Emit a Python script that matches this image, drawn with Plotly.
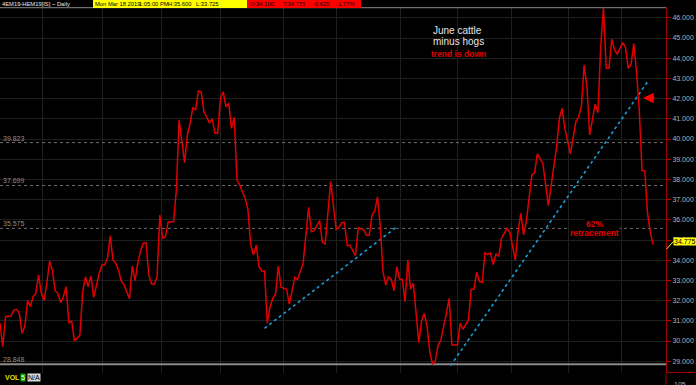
import plotly.graph_objects as go

# ---------------- data ----------------
session = [0, 1, 2, 4, 5, 6, 7, 8, 9, 10, 11, 12, 13, 14, 15, 16, 17, 18, 19, 20,
           21, 22, 23, 24, 25, 26, 27, 28, 29, 30, 31, 32, 33, 34, 36, 37, 38, 39, 40, 41,
           42, 43, 44, 45, 47, 48, 49, 50, 51, 52, 53, 54, 55, 56, 57, 58, 59, 60, 61, 63,
           64, 65, 67, 68, 69, 70, 71, 72, 73, 74, 76, 77, 78, 79, 80, 81, 82, 83, 84, 85,
           86, 87, 89, 90, 91, 92, 93, 94, 95, 96, 97, 98, 99, 100, 101, 102, 104, 105, 107, 108,
           110, 111, 112, 113, 114, 116, 117, 118, 120, 122, 123, 124, 125, 126, 127, 129, 130, 132, 133, 134,
           135, 136, 137, 138, 139, 140, 141, 142, 143, 144, 145, 146, 147, 148, 149, 150, 152, 153, 154, 155,
           156, 157, 158, 159, 160, 162, 163, 164, 166, 167, 168, 170, 171, 172, 173, 174, 175, 176, 177, 178,
           179, 180, 181, 182, 184, 185, 187, 188, 189, 190, 191, 193, 194, 195, 197, 199, 200, 202, 203, 204,
           205, 207, 209, 210, 211, 212, 213, 214, 216, 217, 218, 219, 220, 221, 222, 223, 224, 226, 227, 228,
           229, 230, 231, 232, 233, 234, 235, 236, 237]
spread = [30.88, 29.72, 31.20, 31.24, 31.53, 31.57, 31.37, 30.38, 30.71, 32.00, 31.70, 32.19, 32.36, 33.27, 32.36, 32.00, 32.86, 33.96, 33.51, 32.49,
          32.36, 31.90, 32.19, 32.69, 30.88, 31.00, 30.01, 30.13, 30.30, 32.44, 33.18, 32.69, 33.22, 32.16, 33.35, 33.75, 33.77, 34.09, 35.20, 34.01,
          33.85, 33.51, 32.96, 32.79, 32.09, 33.71, 32.99, 33.85, 34.47, 34.84, 34.87, 33.27, 32.82, 32.82, 33.18, 36.24, 35.08, 35.16, 35.88, 35.91,
          37.48, 40.94, 38.83, 40.20, 40.78, 41.57, 41.44, 42.38, 42.34, 41.35, 40.81, 40.98, 40.28, 40.28, 42.01, 42.34, 41.60, 41.77, 40.53, 41.07,
          37.97, 37.72, 37.06, 36.49, 34.75, 34.26, 34.75, 33.68, 33.47, 33.47, 30.88, 31.70, 32.11, 32.33, 33.71, 32.66, 32.56, 31.83, 33.15, 33.05,
          33.85, 35.33, 36.62, 35.41, 35.46, 35.96, 34.89, 34.80, 37.89, 35.53, 35.63, 35.86, 35.88, 34.72, 34.75, 34.22, 35.61, 35.50, 35.23, 35.23,
          36.24, 36.44, 37.14, 35.66, 33.43, 32.77, 33.18, 33.05, 32.49, 33.68, 33.07, 33.05, 31.95, 34.01, 32.56, 32.86, 29.92, 31.00, 31.37, 30.71,
          29.42, 28.85, 29.02, 29.80, 30.05, 31.37, 32.11, 29.80, 29.80, 30.88, 30.58, 31.04, 32.56, 32.56, 33.41, 32.94, 32.91, 34.37, 34.28, 34.36,
          33.78, 34.32, 34.18, 35.08, 35.57, 35.39, 34.00, 35.41, 36.32, 35.25, 35.91, 38.22, 38.33, 39.26, 38.80, 36.70, 37.72, 39.62, 41.02, 41.52,
          40.53, 39.26, 40.86, 41.10, 41.63, 43.66, 42.62, 40.20, 41.73, 41.30, 44.57, 46.50, 43.50, 43.50, 44.94, 44.41, 44.21, 44.77, 44.54, 43.50,
          43.66, 44.74, 43.33, 41.44, 38.43, 38.43, 36.32, 35.41, 34.775]

month_start_sessions = [15.6, 37.3, 58.7, 80.1, 102.9, 122.1, 145.3, 165.9, 185.5, 206.2, 225.7]
fib_high = 46.50
fib_levels = [39.823, 37.699, 35.575]
fib_low = 28.848
trend1_x = [96.0, 143.8]
trend1_y = [30.63, 35.63]
trend2_x = [163.5, 235.3]
trend2_y = [28.78, 42.89]
last_price = 34.775

header_texts = ["4EM19-HEM19[IS] ~ Daily", "Mon Mar 18 2019", "1:05:00 PM", "H:35.600", "L:33.725",
                "O:34.100", "T:34.775", "-0.625", "-1.77%"]

# ---------------- layout helpers ----------------
W, H = 696, 385
ML, MR, MT, MB = 0, 30, 7, 12
PW = W - ML - MR
PH = H - MT - MB
XR = [0, 241.7]
YR = [28.416, 46.535]


def pxx(x):
    return (x - ML) / PW


def pxy(y):
    return (H - MB - y) / PH


FONT = "Liberation Sans"
fig = go.Figure()

# fib lines
fig.add_trace(go.Scatter(x=XR, y=[fib_high, fib_high], mode="lines",
                         line=dict(color="#8a8a8a", width=1), hoverinfo="skip", showlegend=False))
for lv in fib_levels:
    fig.add_trace(go.Scatter(x=XR, y=[lv, lv], mode="lines",
                             line=dict(color="#6e6e6e", width=1, dash="dot"), hoverinfo="skip", showlegend=False))
fig.add_trace(go.Scatter(x=XR, y=[fib_low, fib_low], mode="lines",
                         line=dict(color="#8a8a8a", width=2), hoverinfo="skip", showlegend=False))

# trend lines
for tx, ty in [(trend1_x, trend1_y), (trend2_x, trend2_y)]:
    fig.add_trace(go.Scatter(x=tx, y=ty, mode="lines",
                             line=dict(color="#1e9ad6", width=1.6, dash="dot"), hoverinfo="skip", showlegend=False))

# price line
fig.add_trace(go.Scatter(x=session, y=spread, mode="lines",
                         line=dict(color="#e00000", width=1.5), showlegend=False))

ann = []
shapes = []
for lv in fib_levels + [fib_low]:
    ann.append(dict(x=pxx(1), xref="paper", y=lv, yref="y", text=f"{lv:.3f}", showarrow=False,
                    xanchor="left", yanchor="bottom", font=dict(family=FONT, size=7, color="#8c8c8c"),
                    yshift=-1))

# header boxes (background rectangles + texts)
shapes.append(dict(type="rect", xref="paper", yref="paper", x0=pxx(93), x1=pxx(247),
                   y0=pxy(8), y1=pxy(0), fillcolor="#ffff00", line=dict(width=0), layer="above"))
shapes.append(dict(type="rect", xref="paper", yref="paper", x0=pxx(247), x1=pxx(361),
                   y0=pxy(8), y1=pxy(0), fillcolor="#ff0000", line=dict(width=0), layer="above"))
txt_x = [1, 94, 138, 167, 195, 249, 282, 312, 335]
txt_c = ["#e8e8e8"] + ["#000000"] * 8
for t, x, c in zip(header_texts, txt_x, txt_c):
    ann.append(dict(x=pxx(x), xref="paper", y=pxy(4), yref="paper", text=t, showarrow=False,
                    xanchor="left", yanchor="middle", borderpad=0,
                    font=dict(family=FONT, size=5.8, color=c)))

# chart notes
ann.append(dict(x=pxx(457), xref="paper", y=pxy(31), yref="paper", text="June cattle", showarrow=False,
                xanchor="center", yanchor="middle", font=dict(family=FONT, size=10, color="#e6e6e6")))
ann.append(dict(x=pxx(458), xref="paper", y=pxy(41), yref="paper", text="minus hogs", showarrow=False,
                xanchor="center", yanchor="middle", font=dict(family=FONT, size=10, color="#e6e6e6")))
ann.append(dict(x=pxx(458), xref="paper", y=pxy(54), yref="paper", text="<b>trend is down</b>", showarrow=False,
                xanchor="center", yanchor="middle", font=dict(family=FONT, size=8.5, color="#e00000")))
ann.append(dict(x=pxx(594), xref="paper", y=pxy(224), yref="paper", text="<b>62%</b>", showarrow=False,
                xanchor="center", yanchor="middle",
                font=dict(family=FONT, size=8.5, color="#e00000"), bgcolor="#000000", borderpad=0))
ann.append(dict(x=pxx(594), xref="paper", y=pxy(232.5), yref="paper", text="<b>retracement</b>", showarrow=False,
                xanchor="center", yanchor="middle",
                font=dict(family=FONT, size=8.5, color="#e00000"), bgcolor="#000000", borderpad=0))

# red arrow
ann.append(dict(x=233.4, xref="x", y=42.03, yref="y", ax=238.0, axref="x", ay=42.03, ayref="y",
                text="", showarrow=True, arrowhead=2, arrowsize=0.7, arrowwidth=3, arrowcolor="#ff0000"))

# last price box
ann.append(dict(x=pxx(673), xref="paper", y=pxy(241), yref="paper", text="34.775", showarrow=False,
                xanchor="left", yanchor="middle", bgcolor="#ffff00", borderpad=0,
                font=dict(family=FONT, size=7, color="#000000")))

# volume panel labels
ann.append(dict(x=pxx(3), xref="paper", y=pxy(378), yref="paper", text="<b>VOL</b>", showarrow=False,
                xanchor="left", yanchor="middle", font=dict(family=FONT, size=7, color="#e0e000")))
ann.append(dict(x=pxx(20), xref="paper", y=pxy(378), yref="paper", text="5", showarrow=False,
                xanchor="left", yanchor="middle", bgcolor="#00b000", borderpad=0,
                font=dict(family=FONT, size=7, color="#ffffff")))
ann.append(dict(x=pxx(27), xref="paper", y=pxy(378), yref="paper", text="N/A", showarrow=False,
                xanchor="left", yanchor="middle", bgcolor="#d8d8d8", borderpad=0,
                font=dict(family=FONT, size=7, color="#000000")))
ann.append(dict(x=pxx(672), xref="paper", y=pxy(379), yref="paper", text="105", showarrow=False,
                xanchor="left", yanchor="top", font=dict(family=FONT, size=7, color="#aaaaaa")))

shapes += [
    dict(type="line", xref="paper", yref="paper", x0=pxx(666), x1=pxx(666), y0=pxy(373), y1=pxy(385),
         line=dict(color="#a00000", width=1)),
    dict(type="line", xref="paper", yref="paper", x0=pxx(666), x1=pxx(696), y0=pxy(372.5), y1=pxy(372.5),
         line=dict(color="#a00000", width=1)),
    dict(type="line", xref="paper", yref="paper", x0=pxx(666.5), x1=pxx(673), y0=pxy(249), y1=pxy(242),
         line=dict(color="#ffff00", width=1)),
]

fig.update_layout(
    width=W, height=H,
    margin=dict(l=ML, r=MR, t=MT, b=MB),
    paper_bgcolor="#000000", plot_bgcolor="#000000",
    showlegend=False,
    annotations=ann, shapes=shapes,
    xaxis=dict(range=XR, tickvals=month_start_sessions, showticklabels=False, ticks="",
               showgrid=True, gridcolor="#1f1f1f", gridwidth=1, zeroline=False, showline=False, fixedrange=True),
    yaxis=dict(range=YR, side="right", dtick=1, tick0=0, tickformat=".3f",
               showgrid=True, gridcolor="#1f1f1f", gridwidth=1, zeroline=False,
               showline=True, linecolor="#a00000", linewidth=1,
               ticks="outside", ticklen=4, tickcolor="#c00000", tickwidth=1,
               tickfont=dict(family=FONT, size=7, color="#b4b4b4"), fixedrange=True),
)

fig.write_html("out.html", config={"displayModeBar": False})
